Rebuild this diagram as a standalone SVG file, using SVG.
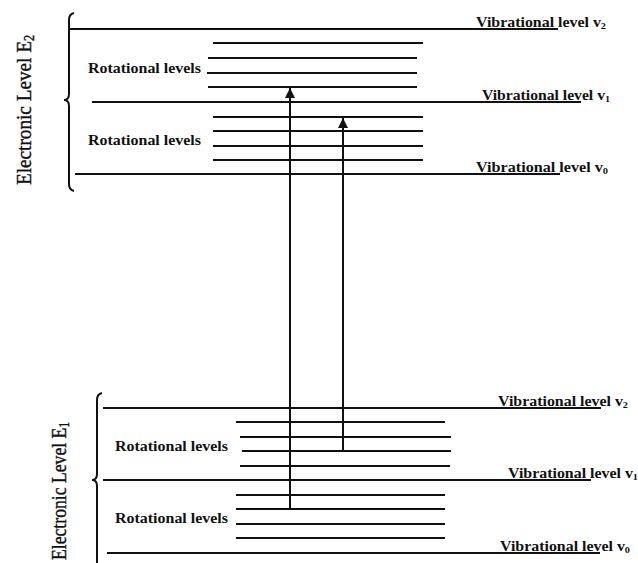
<svg xmlns="http://www.w3.org/2000/svg" width="638" height="563" viewBox="0 0 638 563">
<defs>
<style>
.lv{stroke:#111;stroke-width:2;fill:none}
.br{stroke:#111;stroke-width:2;fill:none}
.rl{font-family:"Liberation Serif","Times New Roman",serif;font-weight:bold;font-size:14px;fill:#111}
.vl{font-family:"Liberation Serif","Times New Roman",serif;font-weight:bold;font-size:14px;fill:#111}
.el{font-family:"Liberation Serif","Times New Roman",serif;font-size:22px;fill:#111;stroke:#111;stroke-width:0.4}
.ar{stroke:#111;stroke-width:2;fill:none}
</style>
<marker id="ah" viewBox="0 0 10 10" refX="10" refY="5" markerWidth="10" markerHeight="10" markerUnits="userSpaceOnUse" orient="auto">
<path d="M0,0 L10,5 L0,10 z" fill="#111"/>
</marker>
</defs>
<rect width="638" height="563" fill="#fff"/>

<g id="E2">
<path class="br" d="M74,13 Q69,14 69,20 L69,94 Q69,100 64,100 Q69,100 69,106 L69,184 Q69,190 74,191"/>
<text class="el" x="31" y="110" text-anchor="middle" transform="rotate(-90 31 110)" textLength="150" lengthAdjust="spacingAndGlyphs">Electronic Level E<tspan font-size="14" dy="3">2</tspan></text>
</g>

<g id="E2-v2">
<line class="lv" x1="68" y1="29" x2="558" y2="29"/>
<text class="vl" x="476" y="27" textLength="130" lengthAdjust="spacingAndGlyphs">Vibrational level v<tspan font-size="9" dy="2">2</tspan></text>
</g>
<g id="E2-rot1">
<line class="lv" x1="213" y1="43" x2="423" y2="43"/>
<line class="lv" x1="208" y1="58" x2="417" y2="58"/>
<line class="lv" x1="207" y1="73" x2="417" y2="73"/>
<line class="lv" x1="208" y1="87" x2="417" y2="87"/>
<text class="rl" x="88" y="73" textLength="113" lengthAdjust="spacingAndGlyphs">Rotational levels</text>
</g>
<g id="E2-v1">
<line class="lv" x1="92" y1="102" x2="581" y2="102"/>
<text class="vl" x="482" y="100" textLength="128" lengthAdjust="spacingAndGlyphs">Vibrational level v<tspan font-size="9" dy="2">1</tspan></text>
</g>
<g id="E2-rot0">
<line class="lv" x1="213" y1="117" x2="423" y2="117"/>
<line class="lv" x1="213" y1="131" x2="423" y2="131"/>
<line class="lv" x1="213" y1="146" x2="423" y2="146"/>
<line class="lv" x1="213" y1="160" x2="423" y2="160"/>
<text class="rl" x="88" y="145" textLength="113" lengthAdjust="spacingAndGlyphs">Rotational levels</text>
</g>
<g id="E2-v0">
<line class="lv" x1="75" y1="174" x2="560" y2="174"/>
<text class="vl" x="476" y="172" textLength="132" lengthAdjust="spacingAndGlyphs">Vibrational level v<tspan font-size="9" dy="2">0</tspan></text>
</g>

<g id="E1">
<path class="br" d="M102,393 Q97,394 97,400 L97,474 Q97,480 92,480 Q97,480 97,486 L97,565"/>
<text class="el" x="66" y="491" text-anchor="middle" transform="rotate(-90 66 491)" textLength="138" lengthAdjust="spacingAndGlyphs">Electronic Level E<tspan font-size="14" dy="3">1</tspan></text>
</g>

<g id="E1-v2">
<line class="lv" x1="103" y1="408" x2="601" y2="408"/>
<text class="vl" x="498" y="406" textLength="130" lengthAdjust="spacingAndGlyphs">Vibrational level v<tspan font-size="9" dy="2">2</tspan></text>
</g>
<g id="E1-rot1">
<line class="lv" x1="236" y1="422" x2="445" y2="422"/>
<line class="lv" x1="240" y1="437" x2="451" y2="437"/>
<line class="lv" x1="242" y1="451" x2="451" y2="451"/>
<line class="lv" x1="240" y1="466" x2="450" y2="466"/>
<text class="rl" x="115" y="451" textLength="113" lengthAdjust="spacingAndGlyphs">Rotational levels</text>
</g>
<g id="E1-v1">
<line class="lv" x1="103" y1="480" x2="591" y2="480"/>
<text class="vl" x="508" y="478" textLength="130" lengthAdjust="spacingAndGlyphs">Vibrational level v<tspan font-size="9" dy="2">1</tspan></text>
</g>
<g id="E1-rot0">
<line class="lv" x1="236" y1="495" x2="445" y2="495"/>
<line class="lv" x1="236" y1="509" x2="445" y2="509"/>
<line class="lv" x1="236" y1="524" x2="445" y2="524"/>
<line class="lv" x1="236" y1="538" x2="445" y2="538"/>
<text class="rl" x="115" y="523" textLength="113" lengthAdjust="spacingAndGlyphs">Rotational levels</text>
</g>
<g id="E1-v0">
<line class="lv" x1="107" y1="553" x2="600" y2="553"/>
<text class="vl" x="500" y="551" textLength="130" lengthAdjust="spacingAndGlyphs">Vibrational level v<tspan font-size="9" dy="2">0</tspan></text>
</g>

<g id="connectors">
<line class="ar" x1="290" y1="509" x2="290" y2="88" marker-end="url(#ah)"/>
<line class="ar" x1="343" y1="451" x2="343" y2="118" marker-end="url(#ah)"/>
</g>
</svg>
